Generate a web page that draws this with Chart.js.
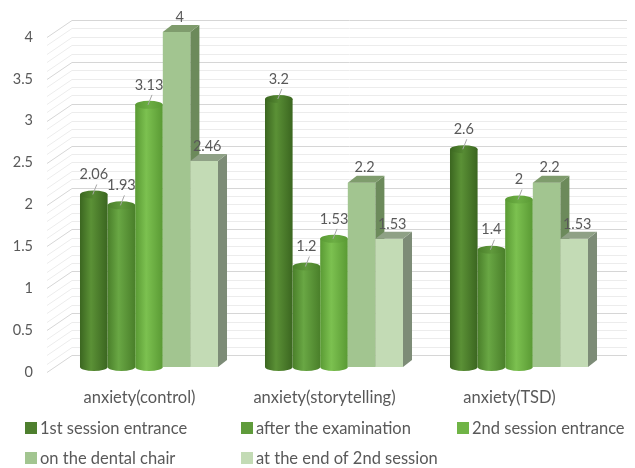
<!DOCTYPE html>
<html lang="en">
<head>
<meta charset="UTF-8">
<title>Anxiety scores</title>
<script src="https://cdn.jsdelivr.net/npm/chart.js"></script>
<style>
  body { margin: 0; background: #fff; }
</style>
</head>
<body>
<canvas id="chart" width="635" height="468"></canvas>
<script>
const categories = ['anxiety(control)', 'anxiety(storytelling)', 'anxiety(TSD)'];
const seriesNames = ['1st session entrance', 'after the examination', '2nd session entrance', 'on the dental chair', 'at the end of 2nd session'];
const firstEntrance = [2.06, 3.2, 2.6];
const afterExam = [1.93, 1.2, 1.4];
const secondEntrance = [3.13, 1.53, 2];
const dentalChair = [4, 2.2, 2.2];
const endSecond = [2.46, 1.53, 1.53];
const yMax = 4;
const yStep = 0.5;

// look of each series: cylinders for the first three, boxes for the last two
const looks = [
  { shape: 'cyl', color: '#4e7f2e', edge: '#3b6620', light: '#5b9136', top: '#568a33' },
  { shape: 'cyl', color: '#5f9b3b', edge: '#4a7f2a', light: '#69a744', top: '#60993c' },
  { shape: 'cyl', color: '#70b446', edge: '#5a9a34', light: '#7cc150', top: '#6cae44' },
  { shape: 'box', color: '#a2c590', side: '#6c8a5b', top: '#7f9c6d' },
  { shape: 'box', color: '#c3dbb5', side: '#7d8c77', top: '#8fa186' }
];
const seriesValues = [firstEntrance, afterExam, secondEntrance, dentalChair, endSecond];

const wall = { dx: 25, dy: -17 };   // back wall offset
const shift = { dx: 9.5, dy: -5 };  // bars sit a bit into the depth
const boxD = { dx: 9, dy: -7 };
const grey = '#595959';

function drawCylinder(ctx, l, r, top, base, lk) {
  const cx = (l + r) / 2, rx = (r - l) / 2, ry = 4;
  const g = ctx.createLinearGradient(l, 0, r, 0);
  g.addColorStop(0, lk.edge);
  g.addColorStop(0.4, lk.light);
  g.addColorStop(1, lk.edge);
  ctx.fillStyle = g;
  ctx.beginPath();
  ctx.moveTo(l, top);
  ctx.lineTo(l, base);
  ctx.ellipse(cx, base, rx, ry, 0, Math.PI, 0, true);
  ctx.lineTo(r, top);
  ctx.closePath();
  ctx.fill();
  const t = ctx.createLinearGradient(l, 0, r, 0);
  t.addColorStop(0, lk.edge);
  t.addColorStop(0.5, lk.top);
  t.addColorStop(1, lk.edge);
  ctx.fillStyle = t;
  ctx.beginPath();
  ctx.ellipse(cx, top, rx, ry, 0, 0, Math.PI * 2);
  ctx.fill();
}

function drawBox(ctx, l, r, top, base, lk) {
  ctx.fillStyle = lk.color;
  ctx.fillRect(l, top, r - l, base - top);
  ctx.fillStyle = lk.side;
  ctx.beginPath();
  ctx.moveTo(r, top);
  ctx.lineTo(r + boxD.dx, top + boxD.dy);
  ctx.lineTo(r + boxD.dx, base + boxD.dy);
  ctx.lineTo(r, base);
  ctx.closePath();
  ctx.fill();
  ctx.fillStyle = lk.top;
  ctx.beginPath();
  ctx.moveTo(l, top);
  ctx.lineTo(l + boxD.dx, top + boxD.dy);
  ctx.lineTo(r + boxD.dx, top + boxD.dy);
  ctx.lineTo(r, top);
  ctx.closePath();
  ctx.fill();
}

function barGeom(chart, i, j) {
  const el = chart.getDatasetMeta(i).data[j];
  const p = el.getProps(['x', 'y', 'base', 'width'], true);
  return {
    l: p.x - p.width / 2 + shift.dx,
    r: p.x + p.width / 2 + shift.dx,
    top: p.y + shift.dy,
    base: p.base + shift.dy
  };
}

const threeD = {
  id: 'threeD',
  beforeDatasetsDraw(chart) {
    const { ctx, chartArea: a, scales: { y } } = chart;
    ctx.save();
    // back wall with diagonal side wall lines
    for (let k = 0; k <= yMax * 10; k++) {
      const py = Math.round(y.getPixelForValue(k / 10)) + 0.5;
      ctx.strokeStyle = k % 5 === 0 ? '#d6d6d6' : '#ececec';
      ctx.lineWidth = 1;
      ctx.beginPath();
      ctx.moveTo(a.left, py);
      ctx.lineTo(a.left + wall.dx, py + wall.dy);
      ctx.lineTo(a.right + wall.dx, py + wall.dy);
      ctx.stroke();
    }
    // bars, left to right so the boxes overlap correctly
    categories.forEach((c, j) => {
      looks.forEach((lk, i) => {
        const b = barGeom(chart, i, j);
        if (lk.shape === 'cyl') drawCylinder(ctx, b.l, b.r, b.top, b.base, lk);
        else drawBox(ctx, b.l, b.r, b.top, b.base, lk);
      });
    });
    ctx.restore();
    return false;
  },
  afterDraw(chart) {
    const { ctx } = chart;
    ctx.save();
    ctx.font = '14.5px Lato';
    ctx.fillStyle = grey;
    ctx.textAlign = 'center';
    ctx.textBaseline = 'middle';
    categories.forEach((c, j) => {
      looks.forEach((lk, i) => {
        const b = barGeom(chart, i, j);
        const cx = (b.l + b.r) / 2;
        const v = seriesValues[i][j];
        if (lk.shape === 'cyl') {
          ctx.strokeStyle = '#a6a6a6';
          ctx.lineWidth = 1;
          ctx.beginPath();
          ctx.moveTo(cx - 1, b.top);
          ctx.lineTo(cx + 3, b.top - 10);
          ctx.stroke();
          ctx.fillText(String(v), cx, b.top - 20);
        } else {
          ctx.fillText(String(v), cx + 3, b.top - 15);
        }
      });
    });
    // legend in fixed columns
    ctx.font = '16.5px Lato';
    ctx.textAlign = 'left';
    seriesNames.forEach((name, i) => {
      const col = i % 3, row = Math.floor(i / 3);
      const x = 25 + col * 216, yy = 428 + row * 30;
      ctx.fillStyle = looks[i].color;
      ctx.fillRect(x, yy - 6, 12, 12);
      ctx.fillStyle = grey;
      ctx.fillText(name, x + 15, yy + 1);
    });
    ctx.restore();
  }
};

new Chart(document.getElementById('chart'), {
  type: 'bar',
  data: {
    labels: categories,
    datasets: seriesNames.map((name, i) => ({
      label: name,
      data: seriesValues[i],
      backgroundColor: looks[i].color
    }))
  },
  options: {
    responsive: false,
    animation: false,
    layout: { padding: { top: 37, right: 33, left: 0, bottom: 0 } },
    categoryPercentage: 0.746,
    barPercentage: 1,
    plugins: { legend: { display: false }, tooltip: { enabled: false } },
    scales: {
      x: {
        grid: { display: false, drawTicks: false },
        border: { display: false },
        ticks: { color: grey, font: { family: 'Lato', size: 16.5 }, padding: 16 },
        afterFit(s) { s.height = 96; }
      },
      y: {
        min: 0,
        max: yMax,
        grid: { display: false, drawTicks: false },
        border: { display: false },
        ticks: {
          stepSize: yStep,
          color: grey,
          font: { family: 'Lato', size: 14.5 },
          padding: 14,
          callback: v => String(Number(v))
        },
        afterFit(s) { s.width = 47; }
      }
    }
  },
  plugins: [threeD]
});
</script>
</body>
</html>
